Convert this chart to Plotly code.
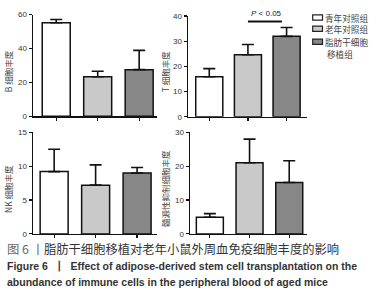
import plotly.graph_objects as go

groups = ["青年对照组", "老年对照组", "脂肪干细胞移植组"]
b_mean = [55.2, 23.3, 27.5]
b_err = [1.9, 3.2, 11.4]
t_mean = [15.9, 24.6, 31.9]
t_err = [3.2, 4.1, 3.5]
nk_mean = [9.2, 7.2, 9.0]
nk_err = [3.3, 3.0, 0.8]
mdsc_mean = [4.9, 21.0, 15.2]
mdsc_err = [1.1, 7.0, 6.4]

colors = ["#ffffff", "#c9c9c9", "#878787"]
xpos = [0, 1, 2]

W, H = 384, 300
def px(x):
    return x / W
def py(y):
    return (H - y) / H

panels = [
    dict(mean=b_mean, err=b_err, x0=33, x1=157, y0=115.6, y1=11, xr=[-0.56, 2.43], yr=[0, 60], dt=20,
         title="B 细胞丰度", tx=8, bw=0.675),
    dict(mean=t_mean, err=t_err, x0=188, x1=306.7, y0=116.3, y1=12.3, xr=[-0.55, 2.52], yr=[0, 40], dt=10,
         title="T 细胞丰度", tx=165, bw=0.7),
    dict(mean=nk_mean, err=nk_err, x0=33, x1=157, y0=237, y1=132.3, xr=[-0.51, 2.48], yr=[0, 15], dt=5,
         title="NK 细胞丰度", tx=8, bw=0.675),
    dict(mean=mdsc_mean, err=mdsc_err, x0=190, x1=306.7, y0=237, y1=132.3, xr=[-0.5, 2.44], yr=[0, 30], dt=10,
         title="髓源性抑制细胞丰度", tx=165, bw=0.68),
]

fig = go.Figure()
layout = {}
annotations = []
for i, p in enumerate(panels):
    n = "" if i == 0 else str(i + 1)
    fig.add_trace(go.Bar(
        x=xpos, y=p["mean"], width=p["bw"], xaxis="x" + n, yaxis="y" + n,
        marker=dict(color=colors, line=dict(color="#111111", width=1.5)),
        error_y=dict(type="data", symmetric=False, array=p["err"], arrayminus=[0, 0, 0],
                     color="#111111", thickness=1.6, width=6),
        showlegend=False, hoverinfo="skip",
    ))
    layout["xaxis" + n] = dict(domain=[px(p["x0"]), px(p["x1"])], anchor="y" + n, range=p["xr"],
                               tickvals=xpos, ticktext=["", "", ""], ticks="outside", ticklen=3,
                               tickwidth=1.2, tickcolor="#111111", showline=True, linecolor="#111111",
                               linewidth=1.5, showgrid=False, zeroline=False, fixedrange=True)
    layout["yaxis" + n] = dict(domain=[py(p["y0"]), py(p["y1"])], anchor="x" + n, range=p["yr"],
                               dtick=p["dt"], tick0=0, ticks="outside", ticklen=3, tickwidth=1.2,
                               tickcolor="#111111", showline=True, linecolor="#111111", linewidth=1.5,
                               showgrid=False, zeroline=False, fixedrange=True,
                               tickfont=dict(family="Liberation Sans, Arial", size=8, color="#333333"))
    annotations.append(dict(text=p["title"], x=px(p["tx"]), y=py((p["y0"] + p["y1"]) / 2 + 6),
                            xref="paper", yref="paper", textangle=-90, showarrow=False,
                            xanchor="center", yanchor="middle",
                            font=dict(family="Noto Sans CJK SC", size=8.5, color="#444444")))

# significance marker
fig.add_shape(type="line", xref="x2", yref="y2", x0=1.0, x1=1.88, y0=37.8, y1=37.8,
              line=dict(color="#111111", width=2))
annotations.append(dict(text="<i>P</i> < 0.05", x=px(266.5), y=py(10), xref="paper", yref="paper",
                        showarrow=False, xanchor="center", yanchor="middle",
                        font=dict(family="Liberation Sans, Arial", size=8, color="#222222")))

# legend
leg_rows = [14, 25.5, 39]
leg_text = ["青年对照组", "老年对照组", "脂肪干细胞"]
for c, yr, t in zip(colors, leg_rows, leg_text):
    fig.add_shape(type="rect", xref="paper", yref="paper", x0=px(312.7), x1=px(322.5),
                  y0=py(yr + 2.7), y1=py(yr - 2.7), fillcolor=c, line=dict(color="#222222", width=1.2))
    annotations.append(dict(text=t, x=px(323.5), y=py(yr), xref="paper", yref="paper", showarrow=False,
                            xanchor="left", yanchor="middle", borderpad=0,
                            font=dict(family="Noto Sans CJK SC", size=8.6, color="#444444")))
annotations.append(dict(text="移植组", x=px(326), y=py(52), xref="paper", yref="paper", showarrow=False,
                        xanchor="left", yanchor="middle", borderpad=0,
                        font=dict(family="Noto Sans CJK SC", size=8.6, color="#444444")))

# caption
annotations.append(dict(text="<span style='color:#666'>图 6 丨</span>脂肪干细胞移植对老年小鼠外周血免疫细胞丰度的影响",
                        x=px(5), y=py(253), xref="paper", yref="paper", showarrow=False,
                        xanchor="left", yanchor="middle",
                        font=dict(family="Noto Sans CJK SC", size=12.3, color="#333333")))
annotations.append(dict(text="<b>Figure 6  丨  Effect of adipose-derived stem cell transplantation on the</b>",
                        x=px(5), y=py(270), xref="paper", yref="paper", showarrow=False,
                        xanchor="left", yanchor="middle",
                        font=dict(family="Liberation Sans", size=10.5, color="#333333")))
annotations.append(dict(text="<b>abundance of immune cells in the peripheral blood of aged mice</b>",
                        x=px(5), y=py(287), xref="paper", yref="paper", showarrow=False,
                        xanchor="left", yanchor="middle",
                        font=dict(family="Liberation Sans", size=10.5, color="#333333")))

fig.update_layout(width=W, height=H, margin=dict(l=0, r=0, t=0, b=0), paper_bgcolor="white",
                  plot_bgcolor="white", annotations=annotations, bargap=0, **layout)
fig.write_html("out.html", config={"displayModeBar": False, "staticPlot": True},
               post_script="document.body.style.margin='0px';document.body.style.overflow='hidden';")
